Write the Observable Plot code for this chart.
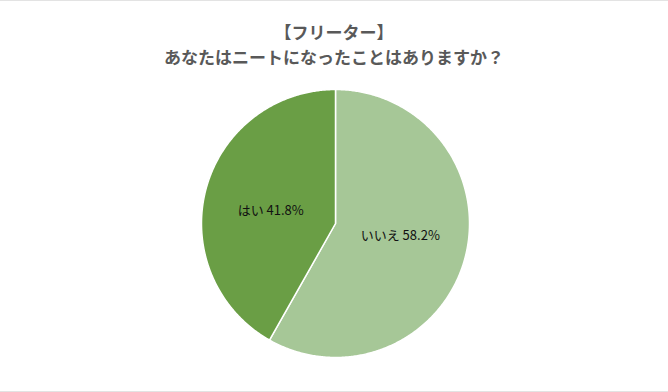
<!DOCTYPE html>
<html>
<head>
<meta charset="utf-8">
<script src="https://cdn.jsdelivr.net/npm/d3@7"></script>
<script src="https://cdn.jsdelivr.net/npm/@observablehq/plot@0.6"></script>
<style>
  html, body { margin: 0; padding: 0; background: #fff; }
  #wrap { position: relative; width: 668px; height: 392px; box-sizing: border-box;
          border-top: 1px solid #e3e3e3; border-bottom: 1px solid #e3e3e3; overflow: hidden;
          font-family: "Noto Sans CJK JP", "Noto Sans", sans-serif; }
  .t { position: absolute; left: 0; width: 668px; text-align: center;
       font-weight: bold; font-size: 17px; line-height: 25px; height: 25px; color: #595959; white-space: nowrap; }
  #t1 { top: 18px; }
  #t2 { top: 43px; }
  #chart { position: absolute; left: 0; top: 74px; }
</style>
</head>
<body>
<div id="wrap">
  <div class="t" id="t1">【フリーター】</div>
  <div class="t" id="t2">あなたはニートになったことはありますか？</div>
  <div id="chart"></div>
</div>
<script>
const categories = ["いいえ", "はい"];
const values = [58.2, 41.8];
const colors = ["#a6c797", "#6a9e45"];

const arcs = d3.pie().sort(null)(values);

function slicePoints(a) {
  const pts = [{x: 0, y: 0}];
  const n = Math.ceil((a.endAngle - a.startAngle) / (Math.PI / 360));
  for (let i = 0; i <= n; i++) {
    const t = a.startAngle + (a.endAngle - a.startAngle) * i / n;
    pts.push({x: Math.sin(t), y: Math.cos(t)});
  }
  pts.push({x: 0, y: 0});
  return pts;
}

const labels = arcs.map((a, i) => {
  const mid = (a.startAngle + a.endAngle) / 2;
  return {label: `${categories[i]} ${values[i]}%`, x: 0.5 * Math.sin(mid), y: 0.5 * Math.cos(mid) * 0.75};
});

const chart = Plot.plot({
  width: 668,
  height: 317,
  marginLeft: 201,
  marginRight: 199,
  marginTop: 14,
  marginBottom: 35,
  x: {domain: [-1, 1], axis: null},
  y: {domain: [-1, 1], axis: null},
  style: {fontFamily: "'Noto Sans CJK JP', 'Noto Sans', sans-serif", background: "white"},
  marks: [
    ...arcs.map((a, i) => Plot.line(slicePoints(a), {
      x: "x", y: "y", fill: colors[i], stroke: "white", strokeWidth: 1.5, strokeLinejoin: "round"
    })),
    Plot.text(labels, {x: "x", y: "y", text: "label", fontSize: 13, fill: "#111"})
  ]
});
document.getElementById("chart").appendChild(chart);
</script>
</body>
</html>
